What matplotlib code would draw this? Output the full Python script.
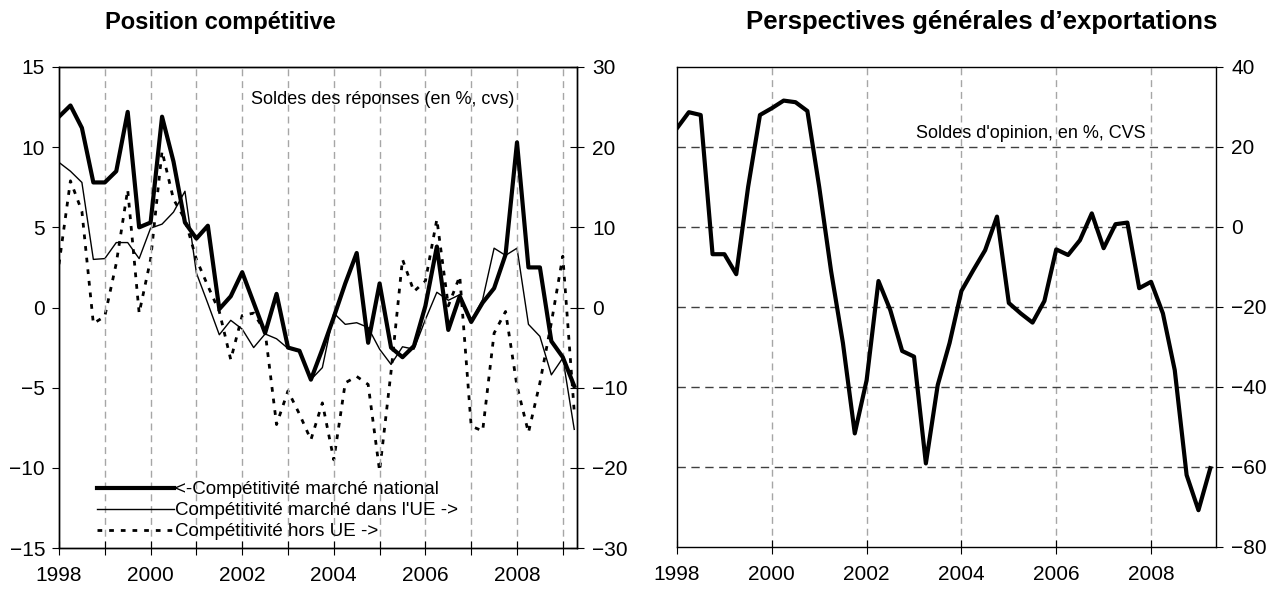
import numpy as np
import matplotlib
matplotlib.use("Agg")
import matplotlib.pyplot as plt
from matplotlib.lines import Line2D

plt.rcParams['font.family'] = ['Liberation Sans', 'DejaVu Sans']

# ---------------- data (quarterly, 1998Q1 .. 2009Q2) ----------------
start_year = 1998
n_quarters = 46

# Left chart: "Position compétitive"
national = [11.9, 12.6, 11.2, 7.8,
            7.8, 8.5, 12.2, 5.0,
            5.3, 11.9, 9.1, 5.3,
            4.3, 5.1, -0.1, 0.7,
            2.2, 0.3, -1.6, 0.85,
            -2.5, -2.7, -4.5, -2.6,
            -0.6, 1.5, 3.4, -2.2,
            1.5, -2.5, -3.1, -2.4,
            0.1, 3.8, -1.4, 0.7,
            -0.9, 0.3, 1.2, 3.3,
            10.3, 2.5, 2.5, -2.1,
            -3.1, -4.9]
dans_ue = [18.1, 17.0, 15.6, 6.0,
           6.1, 8.1, 8.1, 6.1,
           9.9, 10.4, 11.9, 14.5,
           4.3, 0.5, -3.4, -1.6,
           -2.7, -5.0, -3.3, -3.9,
           -5.1, -5.5, -9.0, -7.5,
           -0.7, -2.1, -1.9, -2.5,
           -5.2, -7.1, -4.9, -5.2,
           -1.5, 1.9, 0.9, 1.6,
           -1.7, 1.0, 7.4, 6.5,
           7.4, -2.1, -3.6, -8.4,
           -6.3, -15.2]
hors_ue = [5.4, 15.8, 12.0, -2.0,
           -1.1, 5.5, 14.7, -0.7,
           6.0, 19.5, 13.5, 11.0,
           6.0, 2.7, -0.5, -6.5,
           -1.0, -0.7, -3.0, -14.6,
           -10.4, -13.3, -16.5, -11.9,
           -19.0, -9.4, -8.6, -9.6,
           -20.4, -8.0, 6.0, 2.0,
           3.3, 11.0, 0.2, 3.9,
           -14.8, -15.4, -3.2, -0.5,
           -9.8, -15.6, -9.4, -1.9,
           6.4, -13.0]

# Right chart: "Perspectives générales d'exportations"
export_outlook = [24.7, 28.7, 28.0, -6.8,
                  -6.8, -11.8, 10.0, 28.0,
                  29.7, 31.6, 31.2, 29.0,
                  10.0, -11.0, -29.0, -51.6,
                  -38.3, -13.5, -20.8, -31.0,
                  -32.4, -59.1, -39.5, -29.0,
                  -16.0, -10.8, -5.8, 2.6,
                  -19.0, -21.6, -23.9, -18.5,
                  -5.6, -7.0, -3.3, 3.4,
                  -5.3, 0.7, 1.1, -15.3,
                  -13.7, -21.6, -35.8, -62.0,
                  -70.8, -60.3]

labels = ["<-Compétitivité marché national",
          "Compétitivité marché dans l'UE ->",
          "Compétitivité hors UE ->"]
title_left = "Position compétitive"
title_right = "Perspectives générales d\u2019exportations"
note_left = "Soldes des réponses (en %, cvs)"
note_right = "Soldes d'opinion, en %, CVS"

x = start_year + 0.25 * np.arange(n_quarters)

W, H = 1277, 589
fig = plt.figure(figsize=(W / 100, H / 100), dpi=100)

def fx(px):
    return px / W

def fy(py):
    return 1 - py / H

TICK_FS = 15
grid_col = '#a6a6a6'
dot_style = (1.7, 2.5)

# ---------------- left chart ----------------
axL = fig.add_axes([fx(59), fy(548), fx(577) - fx(59), fy(67) - fy(548)])
axR = axL.twinx()

axL.set_xlim(1998, 2009.31)
axL.set_ylim(-15, 15)
axR.set_ylim(-30, 30)
axL.set_yticks(np.arange(-15, 16, 5))
axR.set_yticks(np.arange(-30, 31, 10))
years = np.arange(1998, 2010)
axL.set_xticks(years)
axL.set_xticklabels([str(y) if y % 2 == 0 else "" for y in years])
for yv in years[1:]:
    axL.axvline(yv, color=grid_col, lw=1.0, dashes=(5, 3.5), zorder=0)

axR.plot(x, hors_ue, color='black', lw=2.0, dashes=dot_style, zorder=3)
axR.plot(x, dans_ue, color='black', lw=1.0, zorder=4)
axL.plot(x, national, color='black', lw=3.0, zorder=5)
axL.set_zorder(axR.get_zorder() + 1)
axL.patch.set_visible(False)

axL.tick_params(axis='y', direction='out', length=5, labelsize=TICK_FS, pad=5)
axR.tick_params(axis='y', direction='inout', length=10, labelsize=TICK_FS, pad=6)
axL.tick_params(axis='x', direction='inout', length=10, labelsize=TICK_FS, pad=8)
for ax in (axL, axR):
    for s in ax.spines.values():
        s.set_linewidth(1.0)

axL.text(fx(251), fy(99), note_left, transform=fig.transFigure, ha='left',
         va='center', fontsize=13)

handles = [Line2D([], [], color='black', lw=3.0),
           Line2D([], [], color='black', lw=1.0),
           Line2D([], [], color='black', lw=2.0, dashes=dot_style)]
axL.legend(handles, labels, loc='lower left', bbox_to_anchor=(0.052, -0.007),
           frameon=False, fontsize=13.5, handlelength=4.1, handletextpad=0.05,
           labelspacing=0.2, borderaxespad=0.2)

fig.text(fx(220), fy(22), title_left, ha='center', va='center',
         fontsize=17, fontweight='bold')

# ---------------- right chart ----------------
ax2 = fig.add_axes([fx(677), fy(547), fx(1216) - fx(677), fy(67) - fy(547)])
ax2.set_xlim(1998, 2009.37)
ax2.set_ylim(-80, 40)
ax2.yaxis.tick_right()
ax2.set_yticks(np.arange(-80, 41, 20))
ax2.set_xticks(np.arange(1998, 2009, 2))
for yv in np.arange(2000, 2009, 2):
    ax2.axvline(yv, color=grid_col, lw=1.0, dashes=(5, 3.5), zorder=0)
for hv in np.arange(-60, 21, 20):
    ax2.axhline(hv, color='#404040', lw=1.0, dashes=(6, 4), zorder=0)
ax2.plot(x, export_outlook, color='black', lw=3.0, zorder=5)
ax2.tick_params(axis='y', direction='out', length=5, labelsize=TICK_FS, pad=6,
                right=True, left=False)
ax2.tick_params(axis='x', direction='inout', length=10, labelsize=TICK_FS, pad=8)
for s in ax2.spines.values():
    s.set_linewidth(1.0)
ax2.text(fx(916), fy(133), note_right, transform=fig.transFigure, ha='left',
         va='center', fontsize=13)

fig.text(fx(982), fy(22), title_right, ha='center', va='center',
         fontsize=18.5, fontweight='bold')

fig.savefig("out.png", dpi=100)
